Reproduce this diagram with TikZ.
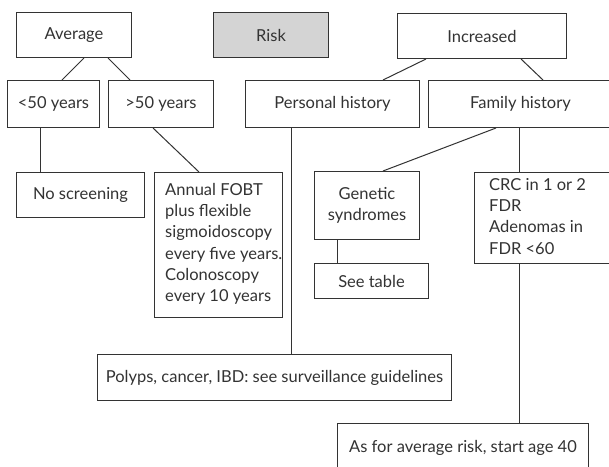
\documentclass[tikz,border=0pt]{standalone}
\usepackage{fontspec}
\setmainfont{Lato}
\usetikzlibrary{calc}
\definecolor{ink}{HTML}{333333}
\definecolor{riskgray}{HTML}{D4D4D4}
\begin{document}
\begin{tikzpicture}[x=1pt,y=-1pt,
  every node/.style={font=\fontsize{16.5}{21.3}\selectfont, text=ink},
  box/.style={draw=ink, line width=1pt, anchor=north west, inner sep=0pt,
    minimum width=#1, align=center},
  para/.style={anchor=north west, inner sep=0pt, align=left},
  link/.style={draw=ink, line width=1pt}]
\clip (0,0) rectangle (609,466);
\fill[white] (0,0) rectangle (609,466);

% top row
\node[box=115pt, minimum height=45pt] (avg) at (16,12) {Average};
\node[box=115pt, minimum height=45pt, fill=riskgray] (risk) at (213,12) {Risk};
\node[box=169pt, minimum height=45pt] (inc) at (397,13) {Increased};

% second row
\node[box=92pt, minimum height=47pt] (lt) at (7,80) {<50 years};
\node[box=105pt, minimum height=47pt] (gt) at (108,80) {>50 years};
\node[box=174pt, minimum height=47pt] (pers) at (245,80) {Personal history};
\node[box=184pt, minimum height=47pt] (fam) at (428,80) {Family history};

% third row
\node[box=128pt, minimum height=45pt] (nos) at (16,172) {No screening};
\node[box=128pt, minimum height=145pt] (ann) at (154,172) {};
\node[para] (annT) at ($(ann.north west)+(11,11)$)
  {Annual FOBT\\plus flexible\\sigmoidoscopy\\every five years.\\Colonoscopy\\every 10 years};
\node[box=105pt, minimum height=68pt] (gen) at (314,171) {Genetic\\syndromes};
\node[box=114pt, minimum height=35pt] (see) at (314,263) {See table};
\node[box=140pt, minimum height=91pt] (crc) at (474,172) {};
\node[para] (crcT) at ($(crc.north west)+(15,6)$)
  {CRC in 1 or 2\\FDR\\Adenomas in\\FDR <60};

% bottom row
\node[box=354pt, minimum height=46pt] (pol) at (97,354)
  {Polyps, cancer, IBD: see surveillance guidelines};
\node[box=251pt, minimum height=48pt] (asf) at (337,423)
  {As for average risk, start age 40};

% connectors
\draw[link] ($(avg.south west)+(68,0)$) -- ($(lt.north west)+(55,0)$);
\draw[link] ($(avg.south west)+(92,0)$) -- ($(gt.north west)+(22,0)$);
\draw[link] ($(inc.south west)+(29,0)$) -- ($(pers.north west)+(138,0)$);
\draw[link] ($(inc.south west)+(124,0)$) -- ($(fam.north west)+(115,0)$);
\draw[link] ($(lt.south west)+(33,0)$) -- ($(nos.north west)+(24,0)$);
\draw[link] ($(gt.south west)+(45,0)$) -- ($(ann.north west)+(45,0)$);
\draw[link] ($(pers.south west)+(46,0)$) -- ($(pol.north west)+(194,0)$);
\draw[link] ($(fam.south west)+(68,0)$) -- ($(gen.north west)+(69,0)$);
\draw[link] ($(fam.south west)+(91,0)$) -- ($(crc.north west)+(45,0)$);
\draw[link] ($(gen.south west)+(23,0)$) -- ($(see.north west)+(23,0)$);
\draw[link] ($(crc.south west)+(45,0)$) -- ($(asf.north west)+(182,0)$);
\end{tikzpicture}
\end{document}
